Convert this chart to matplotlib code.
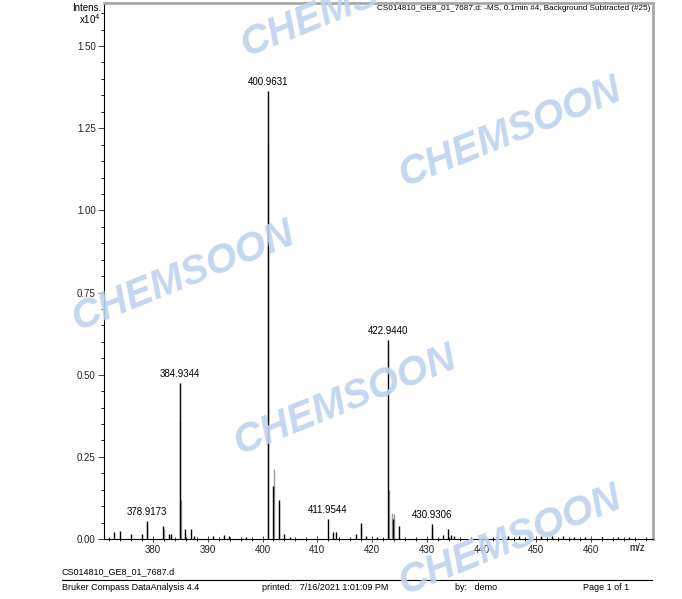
import matplotlib.pyplot as plt
from matplotlib.ticker import MultipleLocator, FormatStrFormatter

plt.rcParams['font.family'] = ['Liberation Sans', 'DejaVu Sans']

# centroid peaks (m/z, intensity in counts)
stick_mz = [372.9, 373.9, 375.9, 377.9, 378.9173, 381.9, 382.9, 383.3, 384.9344, 385.9, 386.9,
            387.5, 390.9, 392.9, 393.9, 396.9, 400.9631, 401.96, 402.96, 403.9, 405.0, 411.9544,
            412.9, 413.5, 417.0, 417.9, 418.9, 420.9, 422.9440, 423.9, 424.9, 430.9306, 432.9,
            433.9, 434.5, 435.0, 442.9, 444.9, 446.9, 448.9, 450.9, 452.9, 454.9, 456.9,
            458.9, 461.9, 464.9, 466.9]
stick_int = [200, 250, 150, 150, 550, 400, 150, 150, 4760, 300, 300,
             80, 100, 120, 100, 50, 13630, 1600, 1190, 150, 60, 610,
             200, 200, 150, 500, 100, 60, 6070, 600, 400, 460, 120,
             300, 120, 100, 100, 80, 80, 100, 100, 100, 100, 60,
             50, 50, 50, 50]

# profile maxima (grey)
prof_mz = [378.98, 381.98, 385.0, 385.05, 401.03, 402.03, 403.03, 423.01, 423.6, 424.0, 431.0, 417.95]
prof_int = [450, 300, 3600, 1200, 12050, 2130, 1050, 1500, 800, 760, 300, 400]

labels = ['378.9173', '384.9344', '400.9631', '411.9544', '422.9440', '430.9306']
label_mz = [378.9173, 384.9344, 400.9631, 411.9544, 422.9440, 430.9306]
label_int = [550, 4760, 13630, 610, 6070, 460]

title = 'CS014810_GE8_01_7687.d: -MS, 0.1min #4, Background Subtracted (#25)'

fig = plt.figure(figsize=(6.82, 5.99), dpi=100)
ax = fig.add_axes([104 / 682, 1 - 539 / 599, 549 / 682, 536 / 599])

ax.vlines(prof_mz, 0, [v / 1e4 for v in prof_int], color='#9a9a9a', lw=1.0)
ax.vlines(stick_mz, 0, [v / 1e4 for v in stick_int], color='black', lw=1.0)

for t, m, v in zip(labels, label_mz, label_int):
    ax.text(m, v / 1e4 + 0.012, t, ha='center', va='bottom', fontsize=7)

ax.set_xlim(371.05, 471.3)
ax.set_ylim(0, 1.631)
ax.set_xticks([380, 390, 400, 410, 420, 430, 440, 450, 460])
ax.xaxis.set_minor_locator(MultipleLocator(2))
ax.yaxis.set_major_locator(MultipleLocator(0.25))
ax.yaxis.set_minor_locator(MultipleLocator(0.05))
ax.yaxis.set_major_formatter(FormatStrFormatter('%.2f'))
ax.tick_params(axis='both', which='major', labelsize=7, length=4, width=0.6, pad=2,
               colors='#222222')
ax.tick_params(axis='x', which='both', direction='inout')
ax.tick_params(axis='y', which='minor', length=2, width=0.6)
ax.tick_params(axis='x', which='minor', length=3, width=0.6)

for s in ['top', 'right']:
    ax.spines[s].set_color('#a8a8a8')
    ax.spines[s].set_linewidth(2)
for s in ['left', 'bottom']:
    ax.spines[s].set_color('black')
    ax.spines[s].set_linewidth(0.8)

fig.text(637 / 682, 1 - 548 / 599, 'm/z', fontsize=7, ha='center', va='center')
fig.text(101 / 682, 1 - 8 / 599, 'Intens.', fontsize=7, ha='right', va='center')
fig.text(101 / 682, 1 - 19 / 599, 'x10$^4$', fontsize=7, ha='right', va='center')
fig.text(650 / 682, 1 - 8 / 599, title, fontsize=5.9, ha='right', va='center')

# footer
fig.text(62 / 682, 1 - 572 / 599, 'CS014810_GE8_01_7687.d', fontsize=6.5, va='center')
fig.add_artist(plt.Line2D([62 / 682, 652 / 682], [1 - 580 / 599] * 2, color='black', lw=0.8))
fig.text(62 / 682, 1 - 588 / 599, 'Bruker Compass DataAnalysis 4.4', fontsize=6.5, va='center')
fig.text(262 / 682, 1 - 588 / 599, 'printed:   7/16/2021 1:01:09 PM', fontsize=6.5, va='center')
fig.text(455 / 682, 1 - 588 / 599, 'by:   demo', fontsize=6.5, va='center')
fig.text(583 / 682, 1 - 588 / 599, 'Page 1 of 1', fontsize=6.5, va='center')

# watermarks
for (x, y) in [(352, 2), (510, 132), (183, 276), (345, 400), (510, 540)]:
    fig.text(x / 682, 1 - y / 599, 'CHEMSOON', fontsize=29, fontweight='bold', style='italic',
             color='#bfd3ef', rotation=22, ha='center', va='center', zorder=10, alpha=0.9)

fig.savefig('out.png', dpi=100)
